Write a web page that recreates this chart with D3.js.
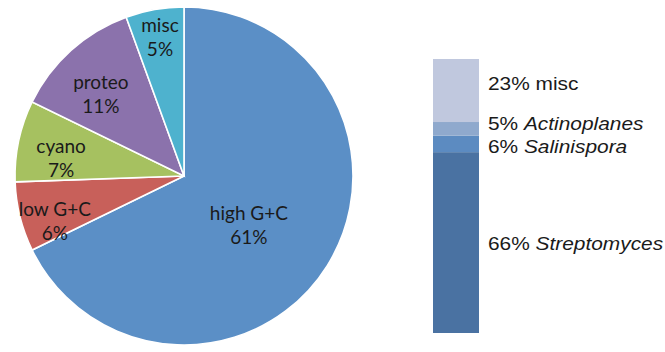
<!DOCTYPE html>
<html lang="en">
<head>
  <meta charset="UTF-8" />
  <title>Phylum and genus shares</title>
  <script src="https://d3js.org/d3.v7.min.js"></script>
  <style>
    body {
      margin: 0;
      background: #fff;
    }
    svg {
      display: block;
    }
    .pie-label {
      font-family: Lato, 'Open Sans', sans-serif;
      font-size: 19px;
      fill: #1a1a1a;
    }
    .bar-label {
      font-family: 'Liberation Sans', Arial, sans-serif;
      font-size: 18px;
      fill: #1a1a1a;
    }
  </style>
</head>
<body>
  <svg id="chart" width="665" height="352"></svg>

  <script>
    // pie: groups, clockwise from 12 o'clock (shares as printed, they sum to 90)
    const groups = ["high G+C", "low G+C", "cyano", "proteo", "misc"];
    const groupPct = [61, 6, 7, 11, 5];
    const groupColors = ["#5b8fc6", "#c8605a", "#a6c160", "#8b72ac", "#4eb2ce"];
    // label placement: where along the slice (0..1) and how far out (fraction of radius)
    const labelAlong = [0.52, 0.28, 0.37, 0.42, 0.51];
    const labelReach = [0.48, 0.81, 0.735, 0.69, 0.835];

    // stacked bar: genera of high G+C, bottom to top
    const genera = ["Streptomyces", "Salinispora", "Actinoplanes", "misc"];
    const generaPct = [66, 6, 5, 23];
    const generaColors = ["#4a72a2", "#5c8bc1", "#8fa9cd", "#c0c8de"];
    const generaItalic = [true, true, true, false];
    // where each bar label sits, on the bar's 0..100 scale
    const generaLabelAt = [32.5, 68.2, 76.5, 90.9];

    const svg = d3.select("#chart");

    // ---- pie
    const cx = 184, cy = 176, r = 169;
    const g = svg.append("g").attr("transform", `translate(${cx},${cy})`);

    const pie = d3.pie().sort(null).value(d => d.v);
    const arcs = pie(groups.map((name, i) => ({name, v: groupPct[i], i})));
    const arc = d3.arc().innerRadius(0).outerRadius(r);

    g.selectAll("path")
      .data(arcs)
      .enter().append("path")
      .attr("d", arc)
      .attr("fill", d => groupColors[d.data.i])
      .attr("stroke", "#fff")
      .attr("stroke-width", 1.6);

    const labels = g.selectAll("text")
      .data(arcs)
      .enter().append("text")
      .attr("class", "pie-label")
      .attr("text-anchor", "middle")
      .attr("transform", d => {
        const i = d.data.i;
        const a = d.startAngle + (d.endAngle - d.startAngle) * labelAlong[i];
        const k = r * labelReach[i];
        return `translate(${k * Math.sin(a)},${-k * Math.cos(a)})`;
      });
    labels.append("tspan").attr("x", 0).attr("y", -5).text(d => d.data.name);
    labels.append("tspan").attr("x", 0).attr("y", 19).text(d => d.data.v + "%");

    // ---- stacked bar
    const y = d3.scaleLinear().domain([0, 100]).range([333, 59]);
    const x = d3.scaleBand().domain(["high G+C"]).range([433, 479]);

    let acc = 0;
    const stack = generaPct.map((v, i) => {
      const s = {name: genera[i], v, y0: acc, y1: acc + v, i};
      acc += v;
      return s;
    });

    svg.append("g").selectAll("rect")
      .data(stack)
      .enter().append("rect")
      .attr("x", x("high G+C"))
      .attr("width", x.bandwidth())
      .attr("y", d => y(d.y1))
      .attr("height", d => y(d.y0) - y(d.y1))
      .attr("fill", d => generaColors[d.i]);

    // the source text is a little wide, so stretch it sideways
    const sx = 1.16, lx = 488;
    const bl = svg.append("g").selectAll("text")
      .data(stack)
      .enter().append("text")
      .attr("class", "bar-label")
      .attr("x", lx)
      .attr("y", d => y(generaLabelAt[d.i]))
      .attr("dy", "0.36em")
      .attr("transform", `translate(${lx * (1 - sx)},0) scale(${sx},1)`);
    bl.append("tspan").text(d => d.v + "% ");
    bl.append("tspan")
      .attr("font-style", d => generaItalic[d.i] ? "italic" : "normal")
      .text(d => d.name);
  </script>
</body>
</html>
